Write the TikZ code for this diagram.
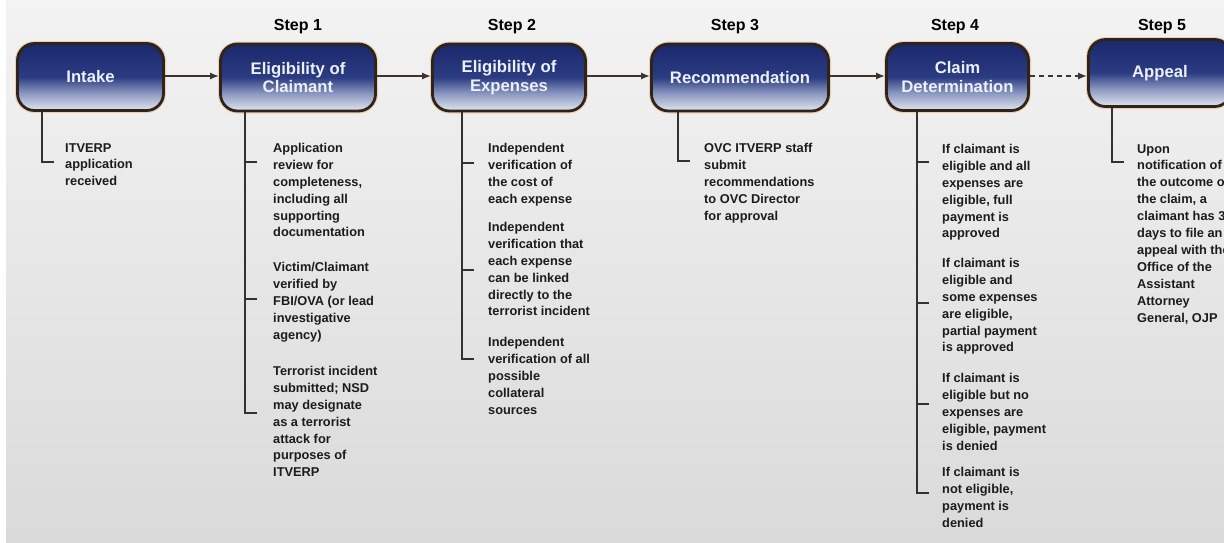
\documentclass[tikz,border=0pt]{standalone}
\usepackage{fontspec}
\setmainfont{Liberation Sans}
\usetikzlibrary{arrows.meta}
\definecolor{bgtop}{RGB}{243,243,243}
\definecolor{bgbot}{RGB}{218,218,218}
\definecolor{navy}{RGB}{26,40,108}
\definecolor{navymid}{RGB}{44,60,130}
\definecolor{navysoft}{RGB}{140,152,192}
\definecolor{navylight}{RGB}{212,218,232}
\definecolor{boxline}{RGB}{48,36,26}
\definecolor{halo}{RGB}{232,210,180}
\definecolor{arrcol}{RGB}{62,52,44}
\definecolor{brkcol}{RGB}{50,50,50}
\definecolor{txtcol}{RGB}{28,28,28}
\definecolor{ttlcol}{RGB}{236,240,248}
\pgfdeclareverticalshading{boxshade}{100bp}{color(0bp)=(navylight); color(27bp)=(navylight); color(38bp)=(navysoft); color(50bp)=(navymid); color(75bp)=(navy); color(100bp)=(navy)}
\newcommand\txtf{\fontsize{12.8}{16.9}\selectfont\bfseries}
\newcommand\ttlf{\fontsize{16.7}{18.5}\selectfont\bfseries}
\newcommand\stpf{\fontsize{16}{19}\selectfont\bfseries}
\tikzset{
  box/.style={rounded corners=17pt, draw=boxline, line width=2.8pt,
    preaction={draw=halo, line width=5pt},
    shading=boxshade,
    text=ttlcol, font=\ttlf, align=center, inner sep=0pt, minimum height=67pt},
  steplabel/.style={font=\stpf, text=black, anchor=base, inner sep=0pt},
  body/.style={font=\txtf, text=txtcol, align=left, anchor=north west, inner sep=0pt},
  arr/.style={draw=arrcol, line width=1.6pt, -{Latex[length=9pt,width=7pt]}},
  brk/.style={draw=brkcol, line width=2.2pt},
}
\begin{document}
\begin{tikzpicture}[x=1pt,y=-1pt]
\useasboundingbox (0,0) rectangle (1224,542);
\clip (0,0) rectangle (1224,542);
\fill[white] (0,0) rectangle (1224,542);
\fill[top color=bgtop, bottom color=bgbot] (6,0) rectangle (1224,542);

% boxes
\node[box, minimum width=146pt] (b0) at (90.5,77) {Intake};
\node[box, minimum width=155pt] (b1) at (298,77.5) {Eligibility of\\Claimant};
\node[box, minimum width=153pt] (b2) at (509,77.5) {Eligibility of\\Expenses};
\node[box, minimum width=177pt] (b3) at (740,77.5) {Recommendation};
\node[box, minimum width=142pt] (b4) at (957.5,77) {Claim\\Determination};
\node[box, minimum width=143pt] (b5) at (1160,73) {Appeal};

% step labels
\node[steplabel] (s1) at (298,30) {Step 1};
\node[steplabel] (s2) at (512,30) {Step 2};
\node[steplabel] (s3) at (735,30) {Step 3};
\node[steplabel] (s4) at (955,30) {Step 4};
\node[steplabel] (s5) at (1162,30) {Step 5};

% arrows
\draw[arr] (b0.east |- 0,76) -- (b1.west |- 0,76);
\draw[arr] (b1.east |- 0,76) -- (b2.west |- 0,76);
\draw[arr] (b2.east |- 0,76) -- (b3.west |- 0,76);
\draw[arr] (b3.east |- 0,76) -- (b4.west |- 0,76);
\draw[arr, dash pattern=on 5pt off 4pt] (b4.east |- 0,76) -- (b5.west |- 0,76);

% bracket end points
\coordinate (k0) at (42,162);
\coordinate (k1) at (245,413);
\coordinate (k2) at (462,359);
\coordinate (k3) at (678,161);
\coordinate (k4) at (917,493);
\coordinate (k5) at (1112,162);

\draw[brk] (b0.south -| k0) -- (k0) -- ++(12,0);
\draw[brk] (b1.south -| k1) -- (k1) -- ++(12,0);
\draw[brk] (k1 |- 0,162) -- ++(12,0);
\draw[brk] (k1 |- 0,299) -- ++(12,0);
\draw[brk] (b2.south -| k2) -- (k2) -- ++(12,0);
\draw[brk] (k2 |- 0,163) -- ++(12,0);
\draw[brk] (k2 |- 0,270) -- ++(12,0);
\draw[brk] (b3.south -| k3) -- (k3) -- ++(12,0);
\draw[brk] (b4.south -| k4) -- (k4) -- ++(12,0);
\draw[brk] (k4 |- 0,162) -- ++(12,0);
\draw[brk] (k4 |- 0,303) -- ++(12,0);
\draw[brk] (k4 |- 0,404) -- ++(12,0);
\draw[brk] (b5.south -| k5) -- (k5) -- ++(12,0);

% texts
\node[body] (t0) at (65,143) {ITVERP\\application\\received};

\node[body] (t1a) at (273,143) {Application\\review for\\completeness,\\including all\\supporting\\documentation};
\node[body] (t1b) at (273,262) {Victim/Claimant\\verified by\\FBI/OVA (or lead\\investigative\\agency)};
\node[body] (t1c) at (273,366) {Terrorist incident\\submitted; NSD\\may designate\\as a terrorist\\attack for\\purposes of\\ITVERP};

\node[body] (t2a) at (488,143) {Independent\\verification of\\the cost of\\each expense};
\node[body] (t2b) at (488,222) {Independent\\verification that\\each expense\\can be linked\\directly to the\\terrorist incident};
\node[body] (t2c) at (488,337) {Independent\\verification of all\\possible\\collateral\\sources};

\node[body] (t3) at (704,143) {OVC ITVERP staff\\submit\\recommendations\\to OVC Director\\for approval};

\node[body] (t4a) at (942,144) {If claimant is\\eligible and all\\expenses are\\eligible, full\\payment is\\approved};
\node[body] (t4b) at (942,258) {If claimant is\\eligible and\\some expenses\\are eligible,\\partial payment\\is approved};
\node[body] (t4c) at (942,373) {If claimant is\\eligible but no\\expenses are\\eligible, payment\\is denied};
\node[body] (t4d) at (942,467) {If claimant is\\not eligible,\\payment is\\denied};

\node[body] (t5) at (1137,144) {Upon\\notification of\\the outcome of\\the claim, a\\claimant has 30\\days to file an\\appeal with the\\Office of the\\Assistant\\Attorney\\General, OJP};
\end{tikzpicture}
\end{document}
